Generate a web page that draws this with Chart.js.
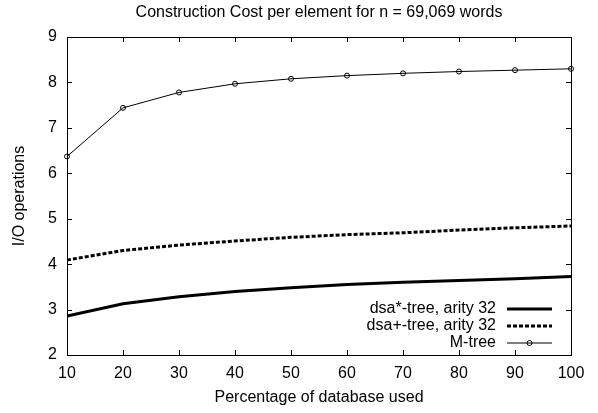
<!DOCTYPE html>
<html>
<head>
<meta charset="UTF-8">
<title>Construction Cost per element</title>
<script src="https://cdn.jsdelivr.net/npm/chart.js"></script>
<style>
  body { margin: 0; background: #fff; }
</style>
</head>
<body>
<canvas id="cost-chart" width="598" height="413"></canvas>
<script>
// percentage of the database used (x axis)
const percentages = [10, 20, 30, 40, 50, 60, 70, 80, 90, 100];
// I/O operations per element
const dsaStarCost = [2.86, 3.13, 3.28, 3.40, 3.48, 3.55, 3.60, 3.64, 3.68, 3.73];
const dsaPlusCost = [4.09, 4.30, 4.42, 4.51, 4.59, 4.65, 4.69, 4.75, 4.80, 4.84];
const mTreeCost = [6.37, 7.44, 7.78, 7.97, 8.08, 8.15, 8.20, 8.24, 8.27, 8.30];
const seriesNames = ['dsa*-tree, arity 32', 'dsa+-tree, arity 32', 'M-tree'];
const chartTitle = 'Construction Cost per element for n = 69,069 words';

const FONT = '"Liberation Sans", Arial, Helvetica, sans-serif';
Chart.defaults.font.family = FONT;
Chart.defaults.font.size = 16;
Chart.defaults.color = '#000';

function toPoints(ys) {
    return percentages.map((p, i) => ({ x: p, y: ys[i] }));
}

// title centred over the plot box rather than the whole canvas
const titlePlugin = {
    id: 'plotTitle',
    afterDraw(chart) {
        const ctx = chart.ctx;
        const a = chart.chartArea;
        ctx.save();
        ctx.font = '16px ' + FONT;
        ctx.fillStyle = '#000';
        ctx.textAlign = 'center';
        ctx.textBaseline = 'alphabetic';
        ctx.fillText(chartTitle, (a.left + a.right) / 2, 17);
        ctx.restore();
    }
};

// gnuplot style frame: box around the plot with inward ticks on every side
const framePlugin = {
    id: 'frame',
    afterDatasetsDraw(chart) {
        const ctx = chart.ctx;
        const a = chart.chartArea;
        const xs = chart.scales.x, ys = chart.scales.y;
        const len = 5;
        ctx.save();
        ctx.strokeStyle = '#000';
        ctx.lineWidth = 1;
        ctx.beginPath();
        xs.ticks.forEach(t => {
            const px = Math.round(xs.getPixelForValue(t.value)) + 0.5;
            ctx.moveTo(px, a.bottom); ctx.lineTo(px, a.bottom - len);
            ctx.moveTo(px, a.top); ctx.lineTo(px, a.top + len);
        });
        ys.ticks.forEach(t => {
            const py = Math.round(ys.getPixelForValue(t.value)) + 0.5;
            ctx.moveTo(a.left, py); ctx.lineTo(a.left + len, py);
            ctx.moveTo(a.right, py); ctx.lineTo(a.right - len, py);
        });
        ctx.stroke();
        ctx.strokeRect(Math.round(a.left) + 0.5, Math.round(a.top) + 0.5,
            Math.round(a.right - a.left), Math.round(a.bottom - a.top));
        ctx.restore();
    }
};

// key in the lower right corner: label right aligned, line sample after it
const keyPlugin = {
    id: 'key',
    afterDraw(chart) {
        const ctx = chart.ctx;
        const a = chart.chartArea;
        const lineEnd = a.right - 19;
        const lineStart = lineEnd - 45;
        const textRight = lineStart - 11;
        const rowH = 17;
        const n = chart.data.datasets.length;
        ctx.save();
        ctx.font = '16px ' + FONT;
        ctx.textAlign = 'right';
        ctx.textBaseline = 'middle';
        ctx.fillStyle = '#000';
        chart.data.datasets.forEach((ds, i) => {
            const y = a.bottom - 12 - (n - 1 - i) * rowH;
            ctx.fillText(ds.label, textRight, y);
            ctx.strokeStyle = ds.borderColor;
            ctx.lineWidth = ds.borderWidth;
            ctx.setLineDash(ds.borderDash || []);
            ctx.beginPath();
            ctx.moveTo(lineStart, y);
            ctx.lineTo(lineEnd, y);
            ctx.stroke();
            ctx.setLineDash([]);
            if (ds.pointRadius > 0) {
                ctx.lineWidth = 1;
                ctx.beginPath();
                ctx.arc((lineStart + lineEnd) / 2, y, ds.pointRadius, 0, Math.PI * 2);
                ctx.stroke();
            }
        });
        ctx.restore();
    }
};

new Chart(document.getElementById('cost-chart'), {
    type: 'line',
    data: {
        datasets: [{
            label: seriesNames[0],
            data: toPoints(dsaStarCost),
            borderColor: '#000',
            borderWidth: 3,
            pointRadius: 0,
            tension: 0
        }, {
            label: seriesNames[1],
            data: toPoints(dsaPlusCost),
            borderColor: '#000',
            borderWidth: 3,
            borderDash: [4, 2],
            pointRadius: 0,
            tension: 0
        }, {
            label: seriesNames[2],
            data: toPoints(mTreeCost),
            borderColor: '#000',
            borderWidth: 1,
            pointRadius: 2.5,
            pointStyle: 'circle',
            pointBorderColor: '#000',
            pointBackgroundColor: 'rgba(0,0,0,0)',
            pointBorderWidth: 1,
            tension: 0,
            clip: false
        }]
    },
    options: {
        responsive: false,
        animation: false,
        layout: { padding: { left: 0, right: 27, top: 37, bottom: 0 } },
        plugins: {
            legend: { display: false },
            tooltip: { enabled: false },
            title: { display: false }
        },
        scales: {
            x: {
                type: 'linear',
                min: 10,
                max: 100,
                afterFit(scale) { scale.height = 58; },
                grid: { display: false, drawTicks: false },
                border: { display: false },
                ticks: { stepSize: 10, padding: 9 },
                title: {
                    display: true,
                    text: 'Percentage of database used',
                    padding: { top: 0, bottom: 6 }
                }
            },
            y: {
                min: 2,
                max: 9,
                afterFit(scale) { scale.width = 67; },
                grid: { display: false, drawTicks: false },
                border: { display: false },
                ticks: { stepSize: 1, padding: 10 },
                title: {
                    display: true,
                    text: 'I/O operations',
                    padding: { top: 10, bottom: 0 }
                }
            }
        }
    },
    plugins: [framePlugin, keyPlugin, titlePlugin]
});
</script>
</body>
</html>
